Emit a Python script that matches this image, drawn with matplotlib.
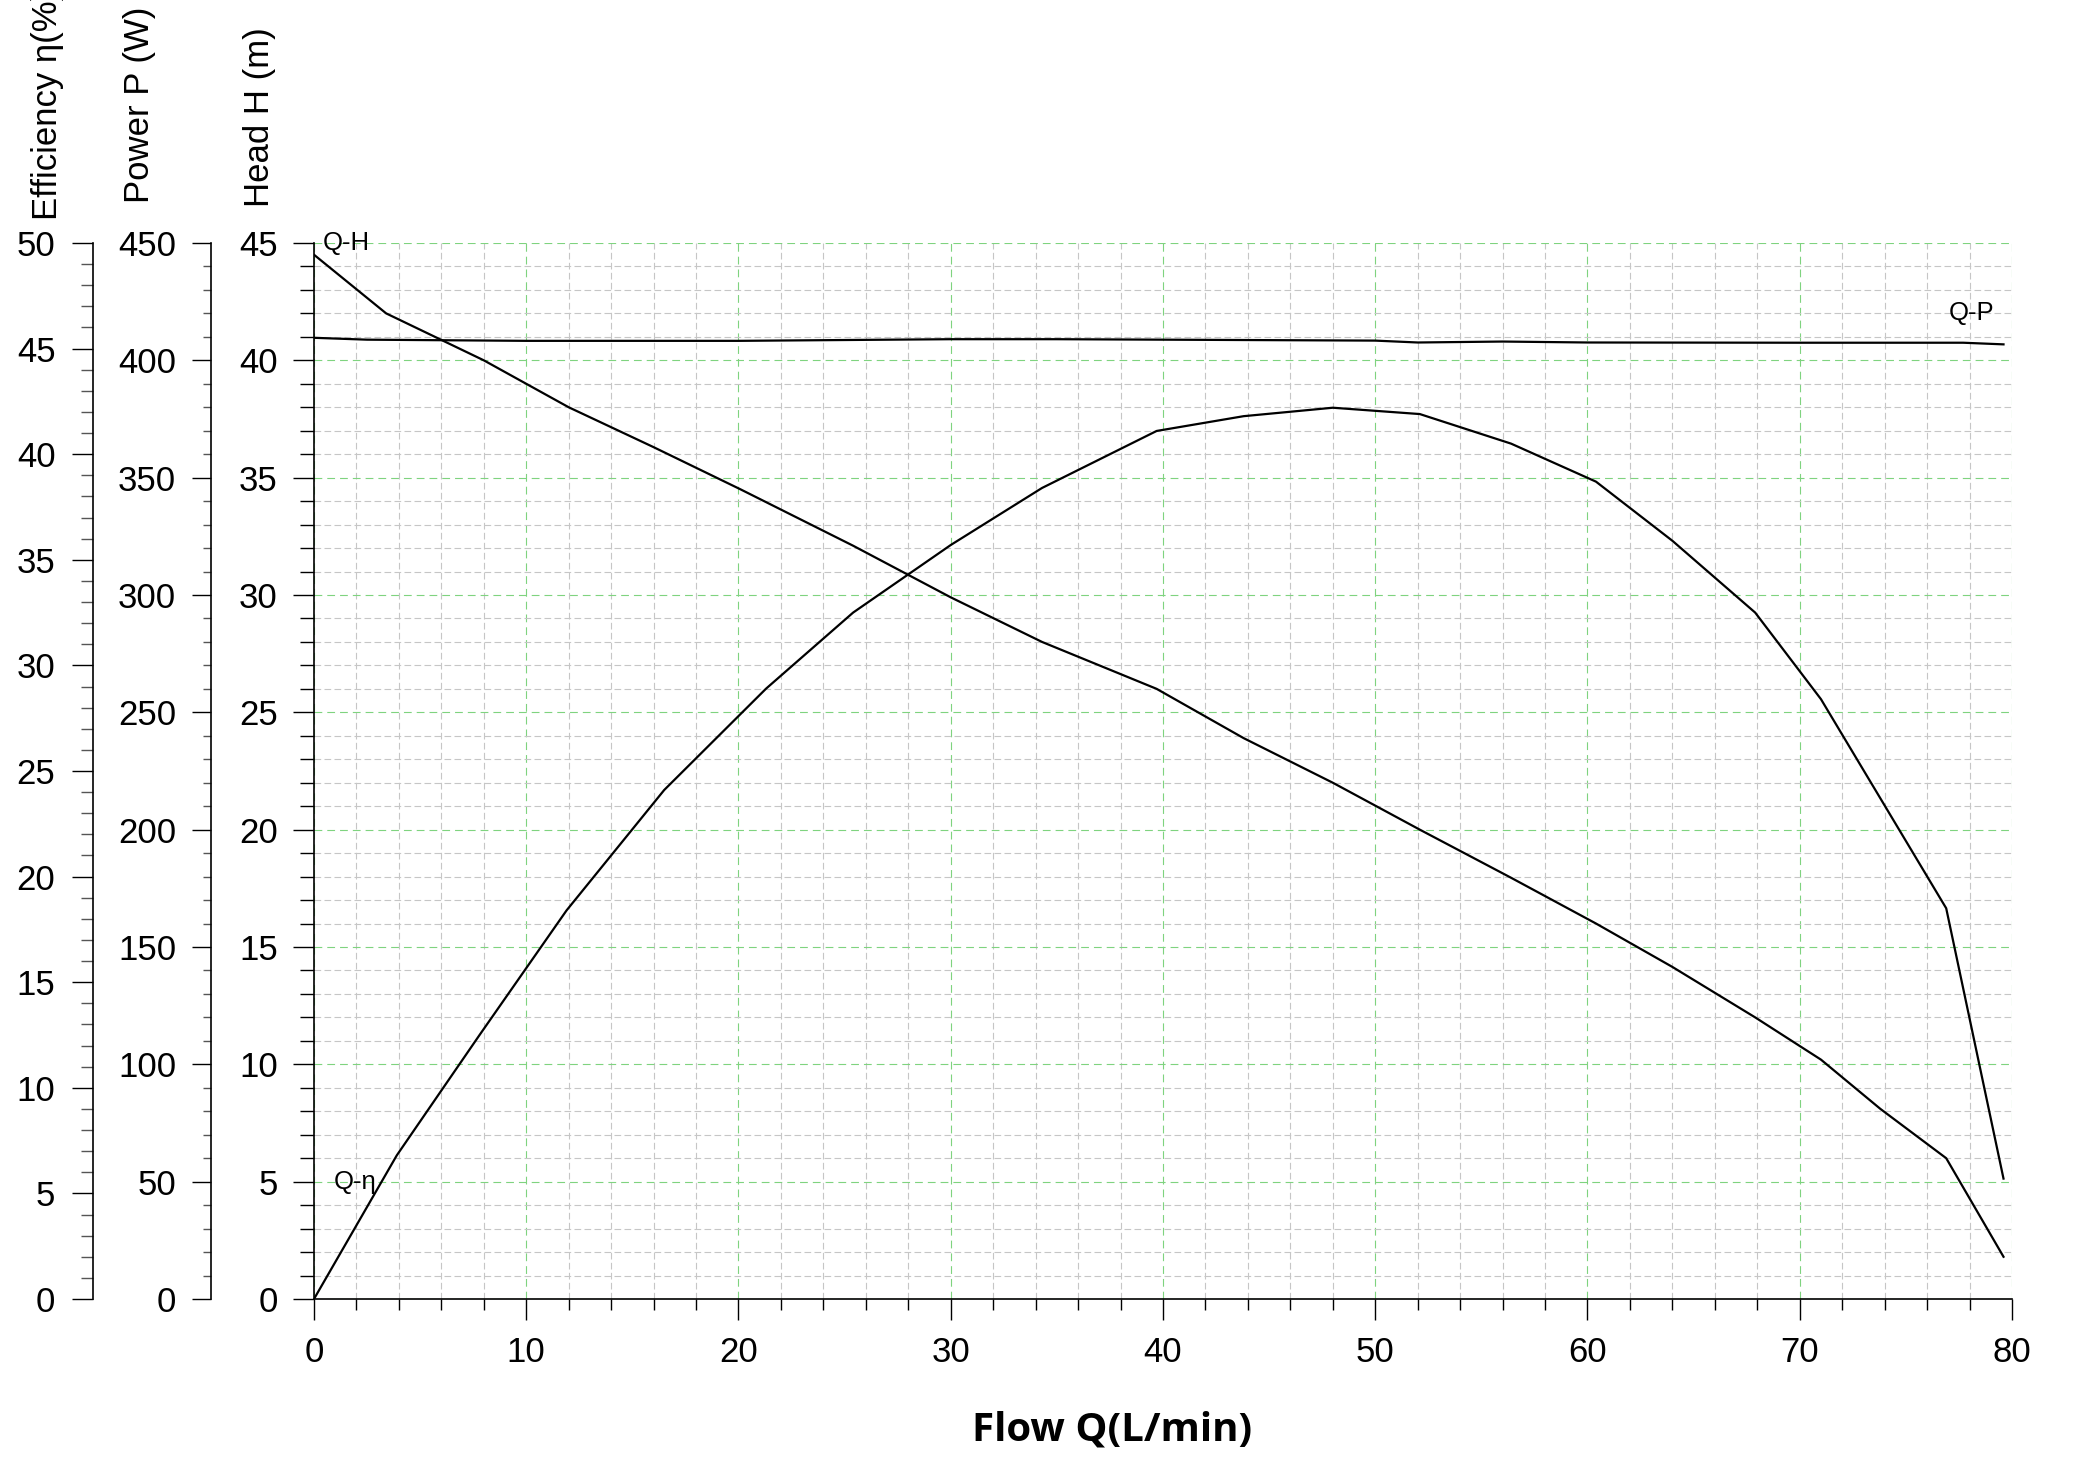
import matplotlib
matplotlib.use("Agg")
import matplotlib.pyplot as plt
from matplotlib.ticker import MultipleLocator

plt.rcParams['font.family'] = ['Liberation Sans', 'DejaVu Sans']

# pump curves
flow_h = [0, 3.4, 8.0, 12.0, 16.0, 20.1, 25.4, 30.0, 34.3, 39.7, 43.8, 48.0,
          52.1, 56.4, 60.4, 64.0, 67.9, 71.0, 73.8, 76.9, 79.6]
head = [44.5, 42.0, 40.0, 38.0, 36.3, 34.5, 32.1, 29.9, 28.0, 26.0, 23.9, 22.0,
        20.0, 17.95, 16.0, 14.15, 12.0, 10.2, 8.1, 6.0, 1.8]

flow_p = [0, 2.5, 10, 20, 30, 35, 45, 50, 52, 56, 60, 70, 77.7, 79.6]
power = [409.6, 408.8, 408.3, 408.3, 409.0, 409.0, 408.6, 408.4, 407.6, 408.0,
         407.6, 407.5, 407.5, 406.8]

flow_e = [0, 3.9, 7.8, 11.9, 16.5, 21.3, 25.4, 30.0, 34.3, 39.7, 43.8, 48.0,
          52.1, 56.4, 60.4, 64.0, 67.9, 71.0, 76.9, 79.6]
eff = [0, 6.8, 12.5, 18.4, 24.1, 28.9, 32.5, 35.7, 38.4, 41.1, 41.8, 42.2,
       41.9, 40.5, 38.7, 35.9, 32.5, 28.4, 18.5, 5.7]

fig = plt.figure(figsize=(20.76, 14.66), dpi=100)
ax = fig.add_axes([0.15125, 0.11392, 0.81792, 0.72033])

# head axis (main)
ax.set_xlim(0, 80)
ax.set_ylim(0, 45)
ax.xaxis.set_major_locator(MultipleLocator(10))
ax.xaxis.set_minor_locator(MultipleLocator(2))
ax.yaxis.set_major_locator(MultipleLocator(5))
ax.yaxis.set_minor_locator(MultipleLocator(1))
for s in ['top', 'right']:
    ax.spines[s].set_visible(False)
for s in ['left', 'bottom']:
    ax.spines[s].set_linewidth(1.2)
ax.tick_params(axis='both', which='major', length=15, width=1.0, labelsize=25)
ax.tick_params(axis='y', which='major', pad=11)
ax.tick_params(axis='x', which='major', pad=12)
ax.tick_params(axis='y', which='minor', length=10, width=1.0)
ax.tick_params(axis='x', which='minor', length=8, width=1.0)

ax.grid(which='minor', color='#c6c6c6', linestyle=(0, (6, 3)), linewidth=0.8)
ax.grid(which='major', color='#7fd37f', linestyle=(0, (7, 4.5)), linewidth=0.8)
ax.set_axisbelow(True)
ax.yaxis.get_gridlines()[-1].set_visible(False)

ax.plot(flow_h, head, color='black', linewidth=1.6)

# power axis
ax_p = ax.twinx()
ax_p.set_ylim(0, 450)
ax_p.yaxis.set_major_locator(MultipleLocator(50))
ax_p.yaxis.set_minor_locator(MultipleLocator(10))
ax_p.yaxis.tick_left()
ax_p.spines['left'].set_position(('axes', -0.0607))
ax_p.spines['left'].set_linewidth(1.2)
for s in ['top', 'right', 'bottom']:
    ax_p.spines[s].set_visible(False)
ax_p.tick_params(axis='y', which='major', length=14, width=1.0, labelsize=25, pad=11)
ax_p.tick_params(axis='y', which='minor', length=6, width=1.0, color='#555555')
ax_p.plot(flow_p, power, color='black', linewidth=1.6)

# efficiency axis
ax_e = ax.twinx()
ax_e.set_ylim(0, 50)
ax_e.yaxis.set_major_locator(MultipleLocator(5))
ax_e.yaxis.set_minor_locator(MultipleLocator(1))
ax_e.yaxis.tick_left()
ax_e.spines['left'].set_position(('axes', -0.1302))
ax_e.spines['left'].set_linewidth(1.2)
for s in ['top', 'right', 'bottom']:
    ax_e.spines[s].set_visible(False)
ax_e.tick_params(axis='y', which='major', length=15, width=1.0, labelsize=25, pad=12)
ax_e.tick_params(axis='y', which='minor', length=9, width=1.0, color='#555555')
ax_e.plot(flow_e, eff, color='black', linewidth=1.6)

# curve names
ax.text(0.42, 45.0, 'Q-H', fontsize=18.5, va='center', ha='left')
ax.text(77.0, 42.0, 'Q-P', fontsize=18.5, va='center', ha='left')
ax.text(0.94, 5.0, 'Q-η', fontsize=18.5, va='center', ha='left')

# axis titles, regular weight like the ticks
fig.text(0.0231, 0.8499, 'Efficiency η(%)', rotation=90, ha='center', va='bottom',
         fontsize=25)
fig.text(0.0674, 0.8615, 'Power P (W)', rotation=90, ha='center', va='bottom',
         fontsize=25)
fig.text(0.1252, 0.8588, 'Head H (m)', rotation=90, ha='center', va='bottom',
         fontsize=25)
fig.text(0.5356, 0.0177, 'Flow Q(L/min)', ha='center', va='baseline',
         fontsize=29, fontweight='bold', family=['Open Sans', 'DejaVu Sans'])

fig.savefig('out.png', dpi=100)
